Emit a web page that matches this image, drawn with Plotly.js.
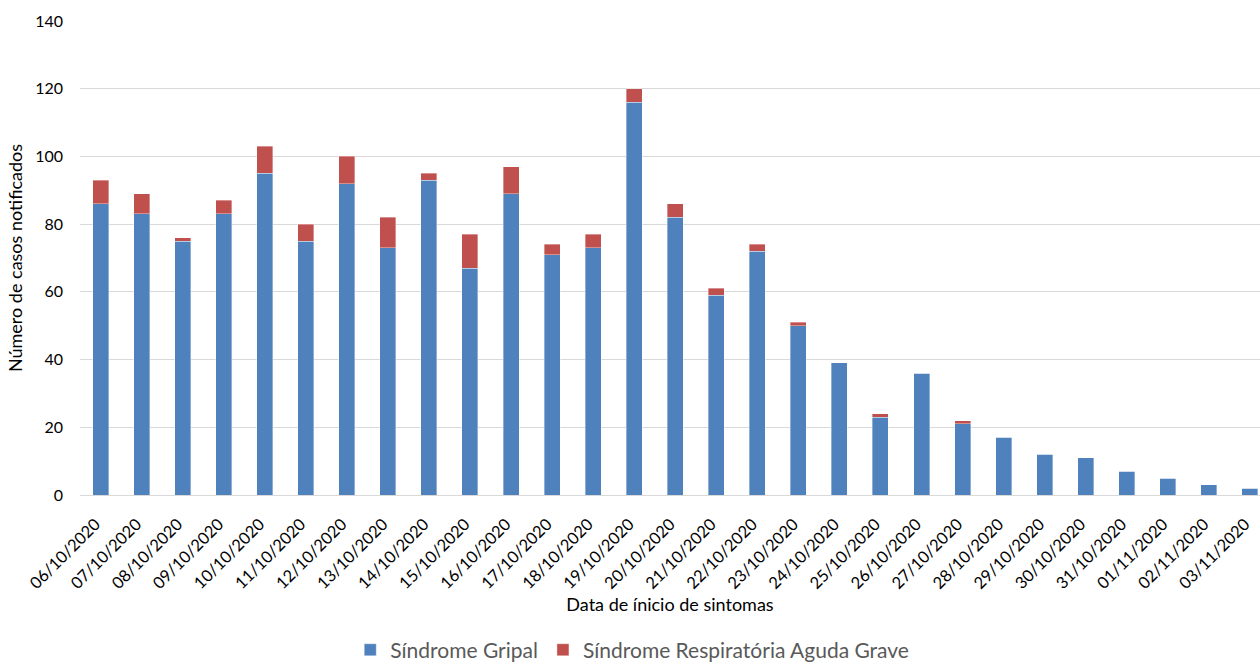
<!DOCTYPE html>
<html>
<head>
<meta charset="utf-8">
<script src="https://cdn.plot.ly/plotly-3.0.1.min.js"></script>
<style>html,body{margin:0;padding:0;background:#fff;}#chart{width:1260px;height:665px;}</style>
</head>
<body>
<div id="chart"></div>
<script>
const dates = ["06/10/2020","07/10/2020","08/10/2020","09/10/2020","10/10/2020","11/10/2020","12/10/2020","13/10/2020","14/10/2020","15/10/2020","16/10/2020","17/10/2020","18/10/2020","19/10/2020","20/10/2020","21/10/2020","22/10/2020","23/10/2020","24/10/2020","25/10/2020","26/10/2020","27/10/2020","28/10/2020","29/10/2020","30/10/2020","31/10/2020","01/11/2020","02/11/2020","03/11/2020"];
const sindromeGripal = [86,83,75,83,95,75,92,73,93,67,89,71,73,116,82,59,72,50,39,23,36,21,17,12,11,7,5,3,2];
const srag = [7,6,1,4,8,5,8,9,2,10,8,3,4,4,4,2,2,1,0,1,0,1,0,0,0,0,0,0,0];
const seriesNames = ["Síndrome Gripal","Síndrome Respiratória Aguda Grave"];
const yTicks = [0,20,40,60,80,100,120,140];

const font = "Lato, 'Noto Sans', sans-serif";
const traces = [
  {type:"bar", name:seriesNames[0], x:dates, y:sindromeGripal, marker:{color:"#4F81BD", line:{color:"rgba(255,255,255,0.6)", width:0.6}}},
  {type:"bar", name:seriesNames[1], x:dates, y:srag, marker:{color:"#C0504D", line:{color:"rgba(255,255,255,0.6)", width:0.6}}}
];
const layout = {
  width:1260, height:665,
  barmode:"stack", bargap:0.61,
  margin:{l:80, r:0, t:21, b:170, autoexpand:false},
  paper_bgcolor:"#fff", plot_bgcolor:"#fff",
  font:{family:font, size:16, color:"#000"},
  xaxis:{
    type:"category", range:[-0.5, 28.245], tickangle:-45,
    tickfont:{family:font, size:16.5, color:"#000"},
    showgrid:false, showline:true, linecolor:"#d9d9d9", linewidth:1,
    ticks:"", automargin:false, ticklabelstandoff:12, ticklabelshift:-5,
    title:{text:"Data de ínicio de sintomas", font:{family:font, size:18, color:"#000"}, standoff:6}
  },
  yaxis:{
    range:[0,140], tickvals:yTicks, ticktext:yTicks.map(String),
    tickfont:{family:font, size:16, color:"#000"},
    gridcolor:"#d9d9d9", gridwidth:1, zeroline:false, showline:false,
    ticks:"", ticklabelstandoff:16, automargin:false,
    title:{text:"Número de casos notificados", font:{family:font, size:18, color:"#000"}, standoff:7}
  },
  showlegend:true,
  legend:{orientation:"h", x:0.468, xanchor:"center", yref:"paper", y:-0.284, yanchor:"top",
    font:{family:font, size:21, color:"#595959"}, traceorder:"normal", itemwidth:30}
};
Plotly.newPlot("chart", traces, layout, {displayModeBar:false, staticPlot:true});
</script>
</body>
</html>
